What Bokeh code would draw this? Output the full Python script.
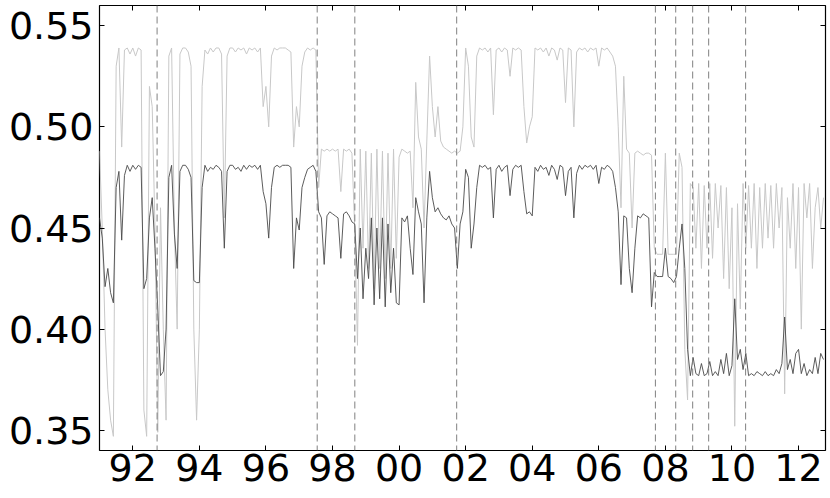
from bokeh.plotting import figure
from bokeh.models import Range1d, FixedTicker, LinearAxis, Span, ColumnDataSource
from bokeh.embed import file_html
from bokeh.resources import INLINE

start_year = 1991.0
months_per_year = 12

# light series (upper), monthly values from Jan 1991
light = [
    0.488, 0.45, 0.40, 0.37, 0.355, 0.347, 0.53, 0.539, 0.49, 0.538, 0.539, 0.536,   # 1991
    0.539, 0.535, 0.539, 0.538, 0.36, 0.347, 0.52, 0.51, 0.45, 0.349, 0.46, 0.40,    # 1992
    0.355, 0.535, 0.539, 0.45, 0.40, 0.536, 0.539, 0.539, 0.537, 0.53, 0.40, 0.355,  # 1993
    0.40, 0.52, 0.538, 0.536, 0.539, 0.537, 0.539, 0.539, 0.536, 0.455, 0.535, 0.539,  # 1994
    0.539, 0.537, 0.539, 0.538, 0.539, 0.536, 0.539, 0.538, 0.539, 0.537, 0.539, 0.51,  # 1995
    0.52, 0.50, 0.535, 0.539, 0.538, 0.539, 0.539, 0.539, 0.538, 0.537, 0.49, 0.51,    # 1996
    0.50, 0.53, 0.537, 0.539, 0.538, 0.539, 0.538, 0.47, 0.489, 0.488, 0.489, 0.488,   # 1997
    0.489, 0.488, 0.489, 0.468, 0.489, 0.488, 0.489, 0.487, 0.45, 0.392, 0.489, 0.44,  # 1998
    0.488, 0.43, 0.487, 0.42, 0.489, 0.43, 0.488, 0.425, 0.487, 0.43, 0.489, 0.435,    # 1999
    0.485, 0.489, 0.488, 0.487, 0.488, 0.46, 0.522, 0.495, 0.489, 0.45, 0.493, 0.535,  # 2000
    0.51, 0.495, 0.51, 0.493, 0.49, 0.489, 0.488, 0.487, 0.488, 0.487, 0.488, 0.50,    # 2001
    0.539, 0.53, 0.495, 0.49, 0.535, 0.539, 0.538, 0.539, 0.537, 0.539, 0.506, 0.538,  # 2002
    0.539, 0.537, 0.539, 0.538, 0.525, 0.539, 0.538, 0.539, 0.538, 0.51, 0.492, 0.50,  # 2003
    0.505, 0.539, 0.538, 0.539, 0.537, 0.539, 0.535, 0.539, 0.538, 0.533, 0.539, 0.538,  # 2004
    0.512, 0.539, 0.538, 0.50, 0.537, 0.539, 0.538, 0.539, 0.537, 0.539, 0.538, 0.539,  # 2005
    0.53, 0.539, 0.538, 0.539, 0.537, 0.535, 0.53, 0.50, 0.46, 0.525, 0.489, 0.487,    # 2006
    0.45, 0.487, 0.488, 0.487, 0.486, 0.487, 0.487, 0.486, 0.44, 0.437, 0.437, 0.437,  # 2007
    0.487, 0.437, 0.437, 0.437, 0.437, 0.487, 0.48, 0.39, 0.365, 0.472, 0.47, 0.44,    # 2008
    0.472, 0.43, 0.471, 0.44, 0.472, 0.435, 0.472, 0.45, 0.471, 0.425, 0.47, 0.42,     # 2009
    0.46, 0.352, 0.462, 0.41, 0.472, 0.44, 0.471, 0.44, 0.472, 0.43, 0.47, 0.44,       # 2010
    0.472, 0.445, 0.471, 0.44, 0.472, 0.45, 0.47, 0.368, 0.465, 0.44, 0.472, 0.43,     # 2011
    0.47, 0.40, 0.472, 0.455, 0.472, 0.43, 0.46, 0.47, 0.45, 0.465,                    # 2012
]

# dark series (lower), monthly values from Jan 1991
dark = [
    0.455, 0.445, 0.421, 0.43, 0.418, 0.413, 0.47, 0.478, 0.444, 0.476, 0.481, 0.478,  # 1991
    0.481, 0.479, 0.481, 0.480, 0.42, 0.425, 0.455, 0.465, 0.44, 0.41, 0.377, 0.379,   # 1992
    0.40, 0.475, 0.481, 0.447, 0.43, 0.478, 0.481, 0.481, 0.479, 0.475, 0.424, 0.423,  # 1993
    0.423, 0.47, 0.481, 0.478, 0.480, 0.479, 0.481, 0.480, 0.478, 0.44, 0.478, 0.481,  # 1994
    0.481, 0.479, 0.480, 0.478, 0.481, 0.479, 0.481, 0.480, 0.481, 0.479, 0.481, 0.468,  # 1995
    0.462, 0.445, 0.47, 0.480, 0.481, 0.480, 0.481, 0.481, 0.481, 0.480, 0.43, 0.455,  # 1996
    0.449, 0.47, 0.475, 0.479, 0.480, 0.481, 0.478, 0.458, 0.455, 0.432, 0.456, 0.458,  # 1997
    0.457, 0.456, 0.455, 0.435, 0.457, 0.458, 0.456, 0.453, 0.452, 0.425, 0.45, 0.415,  # 1998
    0.44, 0.425, 0.455, 0.412, 0.45, 0.415, 0.455, 0.411, 0.452, 0.418, 0.44, 0.413,   # 1999
    0.412, 0.455, 0.453, 0.456, 0.44, 0.427, 0.465, 0.458, 0.452, 0.413, 0.455, 0.478,  # 2000
    0.465, 0.458, 0.46, 0.457, 0.455, 0.454, 0.456, 0.452, 0.45, 0.43, 0.452, 0.458,   # 2001
    0.479, 0.475, 0.44, 0.452, 0.47, 0.481, 0.480, 0.481, 0.479, 0.480, 0.455, 0.479,  # 2002
    0.481, 0.478, 0.480, 0.481, 0.466, 0.479, 0.481, 0.480, 0.481, 0.468, 0.457, 0.458,  # 2003
    0.456, 0.480, 0.478, 0.481, 0.479, 0.480, 0.476, 0.481, 0.479, 0.474, 0.481, 0.480,  # 2004
    0.466, 0.478, 0.480, 0.455, 0.477, 0.481, 0.479, 0.481, 0.480, 0.481, 0.479, 0.481,  # 2005
    0.472, 0.480, 0.479, 0.481, 0.480, 0.478, 0.47, 0.458, 0.422, 0.456, 0.455, 0.43,  # 2006
    0.418, 0.44, 0.456, 0.455, 0.457, 0.456, 0.455, 0.411, 0.428, 0.426, 0.426, 0.426,  # 2007
    0.44, 0.426, 0.425, 0.423, 0.426, 0.44, 0.452, 0.43, 0.39, 0.377, 0.386, 0.378,    # 2008
    0.377, 0.383, 0.377, 0.378, 0.384, 0.377, 0.379, 0.377, 0.385, 0.378, 0.388, 0.377,  # 2009
    0.382, 0.415, 0.385, 0.39, 0.38, 0.388, 0.377, 0.378, 0.377, 0.379, 0.378, 0.377,  # 2010
    0.379, 0.377, 0.378, 0.377, 0.38, 0.378, 0.383, 0.406, 0.38, 0.385, 0.378, 0.388,  # 2011
    0.39, 0.378, 0.383, 0.377, 0.38, 0.378, 0.386, 0.378, 0.388, 0.385,                # 2012
]

break_dates = [1992.73, 1997.54, 1998.67, 2001.73, 2007.70, 2008.31, 2008.82, 2009.30, 2010.41]

x_tick_years = [1992, 1994, 1996, 1998, 2000, 2002, 2004, 2006, 2008, 2010, 2012]
x_tick_labels = ["92", "94", "96", "98", "00", "02", "04", "06", "08", "10", "12"]
y_tick_values = [0.35, 0.40, 0.45, 0.50, 0.55]
y_tick_labels = ["0.35", "0.40", "0.45", "0.50", "0.55"]

x_range = (1991.0, 2012.81)
y_range = (0.34, 0.56)

dates = [start_year + i / months_per_year for i in range(len(light))]
src = ColumnDataSource(dict(x=dates, light=light, dark=dark))

FONT = "DejaVu Sans"
FSIZE = "38px"

p = figure(width=828, height=496, output_backend="svg", toolbar_location=None,
           x_range=Range1d(*x_range), y_range=Range1d(*y_range),
           min_border_left=99, min_border_right=3, min_border_top=5, min_border_bottom=46)
p.grid.visible = False
p.background_fill_color = "white"
p.border_fill_color = "white"
p.outline_line_color = "black"
p.outline_line_width = 1.2

p.line("x", "light", source=src, line_color="#c8c8c8", line_width=1)
p.line("x", "dark", source=src, line_color="#4a4a4a", line_width=0.9)

for d in break_dates:
    p.add_layout(Span(location=d, dimension="height", line_color="#808080",
                      line_dash="7 4", line_width=1))

xt = FixedTicker(ticks=x_tick_years)
yt = FixedTicker(ticks=y_tick_values)

def style(ax, labels):
    ax.major_tick_in = 5
    ax.major_tick_out = 0
    ax.minor_tick_in = 0
    ax.minor_tick_out = 0
    ax.axis_line_color = None
    ax.major_tick_line_color = "black"
    ax.major_tick_line_width = 1
    if labels:
        ax.major_label_text_font = FONT
        ax.major_label_text_font_size = FSIZE
        ax.major_label_text_color = "black"
    else:
        ax.major_label_text_font_size = "0px"
        ax.major_label_text_color = None
        ax.major_label_standoff = 0

xa = p.xaxis[0]
xa.ticker = xt
xa.major_label_overrides = {float(k): v for k, v in zip(x_tick_years, x_tick_labels)}
xa.major_label_standoff = 3
style(xa, True)

ya = p.yaxis[0]
ya.ticker = yt
ya.major_label_overrides = {float(k): v for k, v in zip(y_tick_values, y_tick_labels)}
ya.major_label_standoff = 6
style(ya, True)

top = LinearAxis(ticker=xt)
style(top, False)
p.add_layout(top, "above")
right = LinearAxis(ticker=yt)
style(right, False)
p.add_layout(right, "right")

open("out.html", "w").write(file_html(p, INLINE))
